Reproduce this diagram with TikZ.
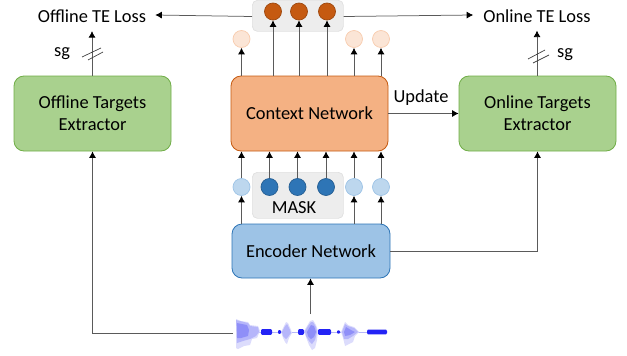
\documentclass[tikz,border=0pt]{standalone}
\usepackage{fontspec}
\setmainfont{Carlito}
\usetikzlibrary{arrows.meta,calc}
\definecolor{lineC}{HTML}{5A5A5A}
\definecolor{greenF}{HTML}{A9D18E}
\definecolor{greenD}{HTML}{70AD47}
\definecolor{orangeF}{HTML}{F4B183}
\definecolor{orangeD}{HTML}{C55A11}
\definecolor{blueF}{HTML}{9DC3E6}
\definecolor{blueD}{HTML}{2E75B6}
\definecolor{grayF}{HTML}{EDEDED}
\definecolor{grayD}{HTML}{E0E0E0}
\definecolor{lightO}{HTML}{FBE5D6}
\definecolor{lightOD}{HTML}{F8CBAD}
\definecolor{lightB}{HTML}{BDD7EE}
\definecolor{lightBD}{HTML}{9DC3E6}
\definecolor{waveOut}{HTML}{DCDCFC}
\definecolor{waveMid}{HTML}{B6B6FA}
\definecolor{waveIn}{HTML}{8F8FF8}
\definecolor{waveDark}{HTML}{2323F5}
\tikzset{
  x=1pt,y=-1pt,
  netbox/.style={draw,rounded corners=10pt,line width=0.8pt,inner sep=0pt,align=center,text=black,font=\fontsize{18.4}{22}\selectfont},
  greenbox/.style={netbox,fill=greenF,draw=greenD,minimum width=157pt,minimum height=75pt},
  orangebox/.style={netbox,fill=orangeF,draw=orangeD,minimum width=157pt,minimum height=75pt},
  bluebox/.style={netbox,fill=blueF,draw=blueD,minimum width=158pt,minimum height=54pt},
  graybox/.style={draw=grayD,fill=grayF,rounded corners=5pt,line width=0.7pt,inner sep=0pt,minimum width=91pt},
  dot/.style={circle,inner sep=0pt,minimum size=17pt,line width=0.7pt},
  darkO/.style={dot,fill=orangeD,draw=orangeD!80!black},
  paleO/.style={dot,fill=lightO,draw=lightOD},
  darkB/.style={dot,fill=blueD,draw=blueD!80!black},
  paleB/.style={dot,fill=lightB,draw=lightBD},
  lab/.style={inner sep=0pt,text=black,font=\fontsize{18.4}{22}\selectfont},
  conn/.style={draw=lineC,line width=0.75pt,-{Latex[length=6.5pt,width=7pt,black]}},
  tick/.style={draw=black!75,line width=0.7pt},
}
\begin{document}
\begin{tikzpicture}
\useasboundingbox (0,0) rectangle (627,356);
% gray holders
\node[graybox,minimum height=31pt,anchor=north west] (topgray) at (252,0) {};
\node[graybox,minimum height=46pt,anchor=north west] (maskgray) at (252,172) {};
% main boxes
\node[greenbox] (off) at (92.5,113.5) {Offline Targets\\Extractor};
\node[orangebox] (ctx) at (309.5,113.5) {Context Network};
\node[greenbox] (on) at (537.5,113.5) {Online Targets\\Extractor};
\node[bluebox] (enc) at (311,251) {Encoder Network};
% text
\node[lab] (offloss) at (92,16.5) {Offline TE Loss};
\node[lab] (onloss) at (537,16.5) {Online TE Loss};
\node[lab] (sgl) at (62,54) {sg};
\node[lab] (sgr) at (565,55) {sg};
\node[lab] (upd) at (421,98) {Update};
\node[lab] (mask) at (294,208) {MASK};
% circles
\node[darkO] (t1) at (273,11.5) {};
\node[darkO] (t2) at (299,11.5) {};
\node[darkO] (t3) at (327,11.5) {};
\node[paleO] (o1) at (241.5,39) {};
\node[paleO] (o2) at (354,39) {};
\node[paleO] (o3) at (381,39) {};
\node[paleB] (b1) at (241.5,187) {};
\node[darkB] (b2) at (269.5,187) {};
\node[darkB] (b3) at (297.5,187) {};
\node[darkB] (b4) at (326,187) {};
\node[paleB] (b5) at (354,187) {};
\node[paleB] (b6) at (381,187) {};
% waveform
\coordinate (wl) at (233,333);
\coordinate (wt) at (310.5,314);
\begin{scope}
\draw[waveMid,line width=.6pt] (259,332) -- (387,332);
% outer envelopes
\fill[waveOut] (236,319) -- (241,321) -- (248,322) -- (250,325) -- (258,326) -- (260,331) -- (257,338) -- (252,339) -- (250,345) -- (244,346) -- (238,349) -- (236,348) -- cycle;
\fill[waveOut] (281,332) -- (284,326) -- (286,322) -- (288,323) -- (291,330) -- (292,333) -- (289,338) -- (287,344) -- (285,342) -- (283,338) -- cycle;
\fill[waveOut] (304,331) -- (307,326) -- (310,321) -- (313,320) -- (316,325) -- (318,331) -- (317,340) -- (315,348) -- (312,350) -- (309,345) -- (306,337) -- cycle;
\fill[waveOut] (341,332) -- (343,327) -- (345,322) -- (348,325) -- (354,327) -- (359,332) -- (355,336) -- (353,342) -- (349,344) -- (345,346) -- (343,338) -- cycle;
% middle envelopes
\fill[waveMid] (236,320) -- (248,323) -- (250,326) -- (258,327) -- (259,332) -- (256,336) -- (250,339) -- (243,341) -- (237,343) -- cycle;
\fill[waveMid] (282,332) -- (285,326) -- (287,324) -- (290,330) -- (291,333) -- (288,337) -- (286,339) -- (283,336) -- cycle;
\fill[waveMid] (305,331) -- (308,326) -- (311,322) -- (313,322) -- (316,327) -- (317,332) -- (315,340) -- (312,344) -- (309,341) -- (306,336) -- cycle;
\fill[waveMid] (342,332) -- (345,324) -- (348,326) -- (354,328) -- (358,332) -- (353,336) -- (348,339) -- (344,339) -- cycle;
% inner envelopes
\fill[waveIn] (237,323) -- (247,325) -- (249,330) -- (248,336) -- (241,338) -- (237,338) -- cycle;
\fill[waveIn] (307,332) -- (311,325) -- (314,326) -- (316,332) -- (314,337) -- (311,339) -- (308,336) -- cycle;
\fill[waveIn] (344,332) -- (346,327) -- (351,330) -- (355,332) -- (350,335) -- (345,336) -- cycle;
% dense bursts
\foreach \a/\b/\h in {261/272/2.9,278/281/1.9,298/304/2.8,318/331/2.9,337/340/1.6,367/387/2.3}{
  \fill[waveDark] (\a,332-.5*\h) -- (\a+1,332-\h) -- (\b-1,332-\h) -- (\b,332-.5*\h) -- (\b,332+.5*\h) -- (\b-1,332+\h) -- (\a+1,332+\h) -- (\a,332+.5*\h) -- cycle;
}
\end{scope}
% connectors
\draw[conn] (topgray.west |- offloss) -- ($(offloss.east)+(9,-1.5)$);
\draw[conn] (topgray.east |- onloss) -- ($(onloss.west)+(-10,-1.5)$);
\draw[conn] (off.north -| offloss) -- ++(0,-44.5);
\draw[conn] (on.north -| onloss) -- ++(0,-45);
\foreach \n in {t1,t2,t3}{\draw[conn] (ctx.north -| \n) -- (\n.south);}
\foreach \n in {o1,o2,o3}{\draw[conn] (ctx.north -| \n) -- (\n.south);}
\foreach \n in {b1,b2,b3,b4,b5,b6}{\draw[conn] (\n.north) -- (ctx.south -| \n);}
\foreach \n in {b1,b5,b6}{\draw[conn] (enc.north -| \n) -- (\n.south);}
\draw[conn] (ctx.east) -- (on.west);
\draw[conn] (enc.east) -| (on.south);
\draw[conn] (wt) -- (enc.south -| wt);
\draw[conn] (wl) -| (off.south);
% stop-gradient ticks
\draw[tick] (82,57) -- (101,48);
\draw[tick] (88,60) -- (103,52);
\draw[tick] (528,59) -- (545,50);
\draw[tick] (533,63) -- (549,55);
\end{tikzpicture}
\end{document}
